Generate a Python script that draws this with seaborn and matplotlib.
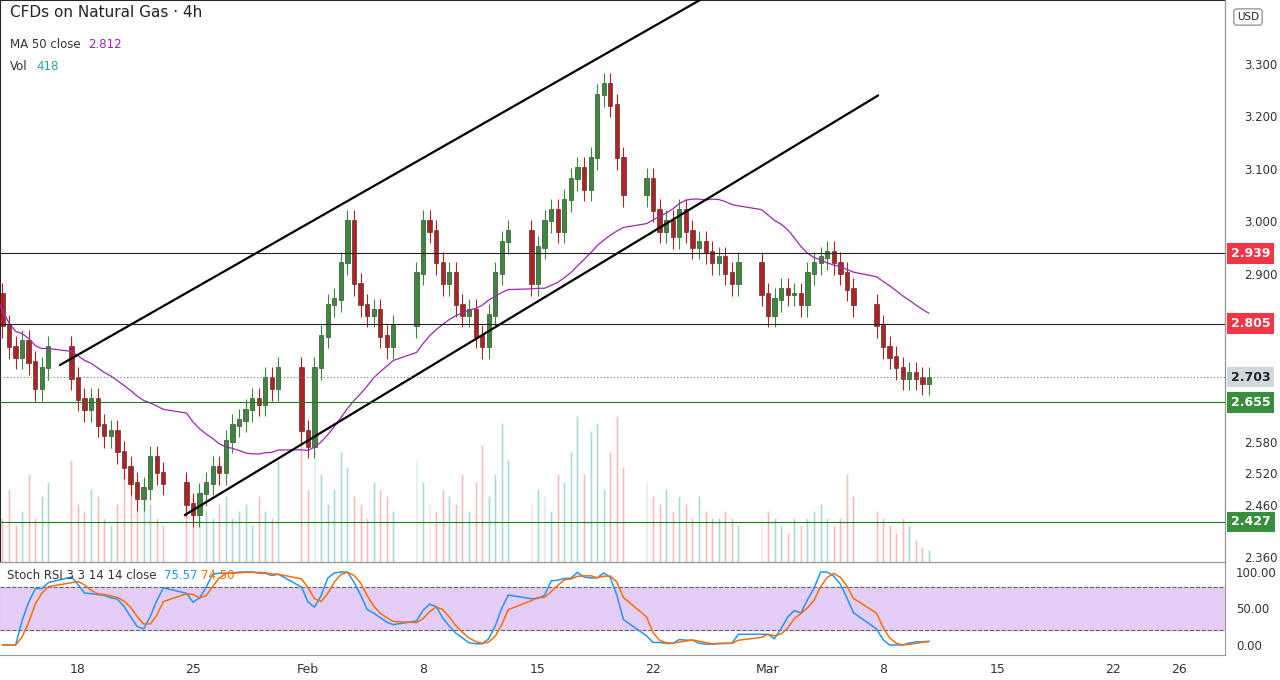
import numpy as np
import pandas as pd
import matplotlib
matplotlib.use("Agg")
import matplotlib.pyplot as plt
import matplotlib.transforms as mtrans
import seaborn as sns

sns.set_style("white")
plt.rcParams['font.family'] = ['DejaVu Sans']

# trading days, 3 bars per day
days = ["2021-01-13", "2021-01-14", "2021-01-15", "2021-01-18", "2021-01-19", "2021-01-20", "2021-01-21",
        "2021-01-22", "2021-01-25", "2021-01-26", "2021-01-27", "2021-01-28", "2021-01-29", "2021-02-01",
        "2021-02-02", "2021-02-03", "2021-02-04", "2021-02-05", "2021-02-08", "2021-02-09", "2021-02-10",
        "2021-02-11", "2021-02-12", "2021-02-15", "2021-02-16", "2021-02-17", "2021-02-18", "2021-02-19",
        "2021-02-22", "2021-02-23", "2021-02-24", "2021-02-25", "2021-02-26", "2021-03-01", "2021-03-02",
        "2021-03-03", "2021-03-04", "2021-03-05", "2021-03-08", "2021-03-09", "2021-03-10"]
closes = [2.86, 2.80, 2.76, 2.74, 2.77, 2.73, 2.68, 2.72, 2.76, 2.70, 2.66, 2.64, 2.66, 2.61, 2.59,
          2.60, 2.56, 2.53, 2.50, 2.47, 2.49, 2.55, 2.52, 2.50, 2.46, 2.44, 2.48, 2.50, 2.53, 2.52,
          2.58, 2.61, 2.62, 2.64, 2.66, 2.65, 2.70, 2.68, 2.72, 2.60, 2.57, 2.72, 2.78, 2.84, 2.85,
          2.92, 3.00, 2.88, 2.84, 2.82, 2.83, 2.78, 2.76, 2.80, 2.90, 3.00, 2.98, 2.92, 2.88, 2.90,
          2.84, 2.82, 2.83, 2.78, 2.76, 2.82, 2.90, 2.96, 2.98, 2.88, 2.95, 3.00, 3.02, 2.98, 3.04,
          3.08, 3.10, 3.06, 3.12, 3.24, 3.26, 3.22, 3.12, 3.05, 3.08, 3.02, 2.98, 3.00, 2.97, 3.02,
          2.98, 2.95, 2.96, 2.94, 2.92, 2.93, 2.90, 2.88, 2.92, 2.86, 2.82, 2.85, 2.87, 2.86, 2.86,
          2.84, 2.90, 2.92, 2.93, 2.94, 2.92, 2.90, 2.87, 2.84, 2.80, 2.76, 2.74, 2.72, 2.70, 2.71,
          2.70, 2.69, 2.70]
wick = 0.022
volumes = [45, 30, 50, 25, 35, 60, 30, 45, 55, 70, 40, 35, 50, 45, 30, 25, 40, 60, 65, 35, 55,
           40, 30, 25, 60, 45, 50, 35, 30, 40, 45, 30, 35, 40, 25, 45, 35, 30, 70, 90, 50, 85,
           60, 40, 50, 75, 65, 45, 40, 30, 55, 50, 45, 35, 70, 55, 40, 35, 50, 45, 40, 60, 35,
           55, 80, 45, 60, 95, 70, 40, 50, 45, 35, 60, 55, 75, 100, 60, 90, 95, 50, 75, 100, 65,
           55, 45, 40, 50, 35, 45, 40, 30, 45, 35, 30, 30, 35, 30, 25, 30, 35, 30, 25, 20, 30,
           25, 30, 35, 40, 30, 25, 30, 60, 45, 35, 30, 25, 20, 30, 25, 15, 10, 8]

# weekends partly compressed, as on the chart
t = []
for d in days:
    ts = pd.Timestamp(d)
    monday = matplotlib.dates.date2num(ts - pd.Timedelta(days=ts.dayofweek))
    for frac in (0.17, 0.5, 0.83):
        t.append(monday + (ts.dayofweek + frac) * 1.2 - 0.6)
t = np.array(t)
c = np.array(closes)
o = np.r_[2.88, c[:-1]]
hi = np.maximum(o, c) + wick
lo = np.minimum(o, c) - wick
up = c >= o

ma = pd.Series(c).rolling(25, min_periods=1).mean().values
delta = pd.Series(c).diff()
gain = delta.clip(lower=0).ewm(alpha=1 / 14, min_periods=1).mean()
loss = (-delta.clip(upper=0)).ewm(alpha=1 / 14, min_periods=1).mean()
rsi = 100 - 100 / (1 + gain / loss.replace(0, 1e-9))
mn = rsi.rolling(14, min_periods=1).min()
mx = rsi.rolling(14, min_periods=1).max()
st = ((rsi - mn) / (mx - mn).replace(0, 1) * 100)
k = st.rolling(3, min_periods=1).mean()
dline = k.rolling(3, min_periods=1).mean()

green = "#26a69a"
red = "#ef5350"
cgreen = "#3a8a3a"
cred = "#b22222"

fig = plt.figure(figsize=(12.8, 6.8), dpi=100)
ax = fig.add_axes([0, 0.1735, 0.957, 0.8265])
axr = fig.add_axes([0, 0.0368, 0.957, 0.1367], sharex=ax)

feb1 = matplotlib.dates.datestr2num("2021-02-01")
x0 = feb1 - 308 / 16.43
x1 = feb1 + (1225 - 308) / 16.43
ax.set_xlim(x0, x1)
ax.set_ylim(2.3505, 3.422)

axv = ax.twinx()
axv.set_ylim(0, 100 / 0.26)
axv.bar(t, volumes, width=0.12, color=np.where(up, green, red), alpha=0.5)
axv.set_yticks([])
axv.set_zorder(0)
ax.set_zorder(1)
ax.patch.set_visible(False)

ax.vlines(t, lo, hi, color=np.where(up, cgreen, cred), lw=0.8)
ax.bar(t, np.abs(c - o) + 0.003, bottom=np.minimum(o, c), width=0.26,
       color=np.where(up, cgreen, cred), edgecolor="#222222", lw=0.4)
sns.lineplot(x=t, y=ma, ax=ax, color="#9c27b0", lw=0.9)

# channel lines (day offsets from Feb 1, price)
chan_x = [[-15.1, 23.86], [-7.5, 34.7]]
chan_y = [[2.726, 3.422], [2.44, 3.24]]
for cx, cy in zip(chan_x, chan_y):
    ax.plot(feb1 + np.array(cx), cy, color="black", lw=1.6)

levels = [2.939, 2.805, 2.655, 2.427]
lcolors = ["#222222", "#222222", "#1b7a1b", "#1b7a1b"]
boxcolors = ["#f23645", "#f23645", "#388e3c", "#388e3c"]
for lv, lc in zip(levels, lcolors):
    ax.axhline(lv, color=lc, lw=0.8)
ax.axhline(2.703, color="#4a9a6a", lw=0.8, ls=(0, (1, 2)))

tr = mtrans.blended_transform_factory(ax.transAxes, ax.transData)
for lv, bc in zip(levels + [2.703], boxcolors + ["#cfd8dc"]):
    ax.text(1.005, lv, f"{lv:.3f}", transform=tr, fontsize=9, color="white" if bc != "#cfd8dc" else "#222",
            va="center", ha="left", clip_on=False, fontweight="bold",
            bbox=dict(boxstyle="square,pad=0.3", fc=bc, ec="none"))

ax.yaxis.tick_right()
ax.set_yticks([3.3, 3.2, 3.1, 3.0, 2.9, 2.58, 2.52, 2.46, 2.36])
ax.set_yticklabels([f"{v:.3f}" for v in ax.get_yticks()], fontsize=8.5, color="#333")
ax.tick_params(axis="y", length=0, pad=14)
ax.tick_params(axis="x", bottom=False, labelbottom=False)
for s in ax.spines.values():
    s.set_visible(False)
ax.spines["right"].set_visible(True)
ax.spines["right"].set_color("#999")
ax.spines["bottom"].set_visible(True)
ax.spines["bottom"].set_color("#999")

ax.text(0.008, 0.97, "CFDs on Natural Gas · 4h", transform=ax.transAxes, fontsize=11, color="#222")
ax.text(0.008, 0.915, "MA 50 close", transform=ax.transAxes, fontsize=8.5, color="#333")
ax.text(0.072, 0.915, "2.812", transform=ax.transAxes, fontsize=8.5, color="#9c27b0")
ax.text(0.008, 0.875, "Vol", transform=ax.transAxes, fontsize=8.5, color="#333")
ax.text(0.03, 0.875, "418", transform=ax.transAxes, fontsize=8.5, color=green)
fig.text(0.975, 0.975, "USD", fontsize=7.5, ha="center", va="center",
         bbox=dict(boxstyle="round,pad=0.3", fc="white", ec="#999"))

axr.set_ylim(-13.7, 113.7)
axr.axhspan(20, 80, color="#e1c8f7", alpha=0.9)
axr.axhline(80, color="#666", lw=0.8, ls="--")
axr.axhline(20, color="#666", lw=0.8, ls="--")
sns.lineplot(x=t, y=k.values, ax=axr, color="#2196f3", lw=1.1)
sns.lineplot(x=t, y=dline.values, ax=axr, color="#ff6d00", lw=1.1)
axr.yaxis.tick_right()
axr.set_yticks([0, 50, 100])
axr.set_yticklabels(["0.00", "50.00", "100.00"], fontsize=8.5, color="#333")
axr.tick_params(axis="y", length=0, pad=8)
for s in axr.spines.values():
    s.set_visible(False)
axr.spines["right"].set_visible(True)
axr.spines["right"].set_color("#999")
axr.spines["bottom"].set_visible(True)
axr.spines["bottom"].set_color("#999")
axr.text(0.006, 0.82, "Stoch RSI 3 3 14 14 close", transform=axr.transAxes, fontsize=8.5, color="#333")
axr.text(0.134, 0.82, "75.57", transform=axr.transAxes, fontsize=8.5, color="#2196f3")
axr.text(0.164, 0.82, "74.50", transform=axr.transAxes, fontsize=8.5, color="#ff6d00")

tick_dates = ["2021-01-18", "2021-01-25", "2021-02-01", "2021-02-08", "2021-02-15", "2021-02-22",
              "2021-03-01", "2021-03-08", "2021-03-15", "2021-03-22", "2021-03-26"]
tick_labels = ["18", "25", "Feb", "8", "15", "22", "Mar", "8", "15", "22", "26"]
axr.set_xticks(matplotlib.dates.datestr2num(tick_dates))
axr.set_xticklabels(tick_labels, fontsize=9, color="#333")
axr.tick_params(axis="x", length=0, pad=6)
axr.set_xlabel("")
axr.set_ylabel("")

fig.savefig("out.png", dpi=100)
